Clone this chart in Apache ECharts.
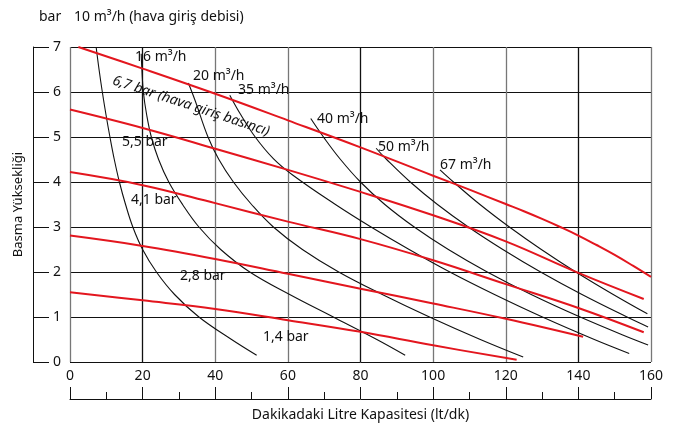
<!DOCTYPE html>
<html>
<head>
<meta charset="utf-8">
<script src="https://cdn.jsdelivr.net/npm/echarts@6/dist/echarts.min.js"></script>
<style>html,body{margin:0;padding:0;background:#fff}#c{width:673px;height:427px}</style>
</head>
<body>
<div id="c"></div>
<script>
// Axis ticks
const xTicks = [0, 20, 40, 60, 80, 100, 120, 140, 160];
const yTicks = [0, 1, 2, 3, 4, 5, 6, 7];

// Air inlet pressure lines (bar): [capacity lt/dk, head]
const bar67 = [[2.3,7.0],[20,6.52],[40,5.96],[60,5.37],[80,4.77],[100,4.14],[110,3.83],[120,3.51],[125,3.35],[130,3.18],[135,3.0],[140,2.81],[145,2.6],[150,2.38],[155,2.14],[160,1.89]];
const bar55 = [[0,5.61],[20,5.2],[40,4.74],[60,4.27],[80,3.78],[100,3.26],[120,2.68],[140,1.98],[158,1.4]];
const bar41 = [[0,4.22],[20,3.93],[40,3.53],[60,3.12],[80,2.73],[100,2.26],[120,1.73],[140,1.2],[158,0.66]];
const bar28 = [[0,2.81],[20,2.58],[40,2.29],[60,1.96],[80,1.63],[100,1.3],[120,0.96],[141.3,0.56]];
const bar14 = [[0,1.55],[20,1.37],[40,1.18],[60,0.93],[80,0.67],[100,0.37],[123,0.05]];

// Air consumption curves (m3/h)
const flow10 = [[7.2,7.0],[8.0,6.5],[8.9,6.0],[9.9,5.5],[11.0,5.0],[12.2,4.5],[13.6,4.0],[15.3,3.5],[17.3,3.0],[20.0,2.5],[23.8,2.0],[28.8,1.5],[35.5,1.0],[44.5,0.5],[51.4,0.15]];
const flow16 = [[19.6,6.85],[19.8,6.5],[20.2,6.0],[21.1,5.5],[22.4,5.0],[24.4,4.5],[27.2,4.0],[31.0,3.5],[35.5,3.0],[41.5,2.5],[49.5,2.0],[60.5,1.5],[72.5,1.0],[84.5,0.5],[92.3,0.15]];
const flow20 = [[32.6,6.2],[34.5,5.8],[38,5.0],[41,4.5],[45,4.0],[50,3.5],[56,3.0],[64,2.5],[74,2.0],[86,1.5],[99,1.0],[113,0.5],[124.8,0.11]];
const flow35 = [[44,5.93],[47,5.5],[51,5.0],[56,4.52],[61.4,4.15],[73.1,3.5],[82.9,3.0],[93.4,2.5],[104.6,2.0],[116.9,1.5],[130.1,1.0],[144.4,0.5],[154,0.19]];
const flow40 = [[66.3,5.41],[69.8,5.0],[74.5,4.5],[80,4.0],[86.7,3.5],[94.8,3.0],[104.2,2.5],[114.9,2.0],[127,1.5],[140.5,1.0],[155.3,0.5],[159.2,0.38]];
const flow50 = [[84.3,4.75],[87.2,4.5],[93.7,4.0],[101.2,3.5],[109.7,3.0],[119.2,2.5],[129.6,2.0],[141,1.5],[153.4,1.0],[159.2,0.78]];
const flow67 = [[101.9,4.27],[105.6,4.0],[112.9,3.5],[121,3.0],[129.8,2.5],[139.3,2.0],[149.6,1.5],[159,1.07]];

const FONT = 'Noto Sans';
const RED = '#e3161e';

const redLines = [bar67, bar55, bar41, bar28, bar14];
const blackLines = [flow10, flow16, flow20, flow35, flow40, flow50, flow67];

const series = [];
blackLines.forEach(d => series.push({
  type: 'line', data: d, smooth: 0.4, showSymbol: false, silent: true,
  lineStyle: { color: '#111', width: 1.1 }, z: 3
}));
redLines.forEach(d => series.push({
  type: 'line', data: d, smooth: 0.4, showSymbol: false, silent: true,
  lineStyle: { color: RED, width: 2 }, z: 4
}));

function txt(x, y, s, extra) {
  return Object.assign({
    type: 'text', x: x, y: y, z: 10,
    style: { text: s, font: '14px "' + FONT + '"', fill: '#111', textVerticalAlign: 'middle' }
  }, extra || {});
}

const chart = echarts.init(document.getElementById('c'), null, { renderer: 'canvas' });
chart.setOption({
  animation: false,
  backgroundColor: '#fff',
  textStyle: { fontFamily: FONT },
  grid: { left: 70, right: 22, top: 47, bottom: 65 },
  xAxis: {
    type: 'value', min: xTicks[0], max: xTicks[xTicks.length - 1], interval: 20,
    offset: 37,
    name: 'Dakikadaki Litre Kapasitesi (lt/dk)', nameLocation: 'middle', nameGap: 9,
    nameTextStyle: { fontSize: 14, color: '#111', fontFamily: FONT, verticalAlign: 'top' },
    axisLine: { show: true, onZero: false, lineStyle: { color: '#111', width: 1 } },
    axisTick: { show: true, inside: true, length: 12, lineStyle: { color: '#111' } },
    minorTick: { show: true, splitNumber: 2, length: 7, lineStyle: { color: '#111' } },
    axisLabel: { inside: true, margin: 16, fontSize: 14, color: '#111', fontFamily: FONT },
    splitLine: { show: true, lineStyle: { color: ['#777', '#111', '#777'], width: 1.3 } }
  },
  yAxis: {
    type: 'value', min: yTicks[0], max: yTicks[yTicks.length - 1], interval: 1,
    offset: 37,
    name: 'Basma Yüksekliği', nameLocation: 'middle', nameGap: 5, nameRotate: 90,
    nameTextStyle: { fontSize: 13, color: '#111', fontFamily: FONT },
    axisLine: { show: true, onZero: false, lineStyle: { color: '#111', width: 1 } },
    axisTick: { show: true, inside: true, length: 16, lineStyle: { color: '#111' } },
    axisLabel: { inside: true, margin: 20, fontSize: 14, color: '#111', fontFamily: FONT },
    splitLine: { show: true, lineStyle: { color: '#111', width: 1 } }
  },
  graphic: [
    txt(39, 17, 'bar'),
    txt(74, 17, '10 m³/h (hava giriş debisi)'),
    txt(135, 57, '16 m³/h'),
    txt(193, 76, '20 m³/h'),
    txt(238, 90, '35 m³/h'),
    txt(317, 119, '40 m³/h'),
    txt(378, 147, '50 m³/h'),
    txt(440, 165, '67 m³/h'),
    txt(122, 142, '5,5 bar'),
    txt(131, 200, '4,1 bar'),
    txt(180, 276, '2,8 bar'),
    txt(263, 337, '1,4 bar'),
    {
      type: 'text', x: 191, y: 106, rotation: -0.32, z: 10,
      style: { text: '6,7 bar (hava giriş basıncı)', font: 'italic 14px "' + FONT + '"', fill: '#111',
               textAlign: 'center', textVerticalAlign: 'middle' }
    }
  ],
  series: series
});
</script>
</body>
</html>
